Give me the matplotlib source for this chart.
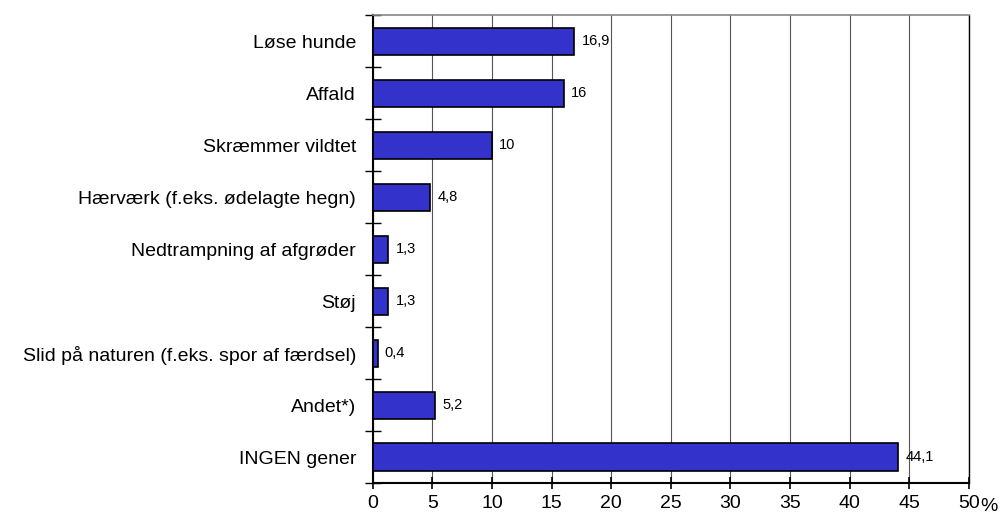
import matplotlib
matplotlib.use("Agg")
import matplotlib.pyplot as plt
import numpy as np

CATEGORIES = [
    "Løse hunde",
    "Affald",
    "Skræmmer vildtet",
    "Hærværk (f.eks. ødelagte hegn)",
    "Nedtrampning af afgrøder",
    "Støj",
    "Slid på naturen (f.eks. spor af færdsel)",
    "Andet*)",
    "INGEN gener",
]
VALUES = [16.9, 16, 10, 4.8, 1.3, 1.3, 0.4, 5.2, 44.1]
XTICKS = [0, 5, 10, 15, 20, 25, 30, 35, 40, 45, 50]

plt.rcParams["font.family"] = ["Liberation Sans", "DejaVu Sans"]

fig = plt.figure(figsize=(10.05, 5.25), dpi=100)
ax = fig.add_axes([0.371, 0.08, 0.593, 0.891])

n = len(CATEGORIES)
y = np.arange(n)
ax.barh(y, VALUES, height=0.52, color="#3333CC", edgecolor="black", lw=1.2, zorder=3)
for yi, v in zip(y, VALUES):
    lab = f"{v:g}".replace(".", ",")
    ax.text(v + 0.6, yi, lab, va="center", ha="left", fontsize=10.5, zorder=4)

ax.set_xlim(0, 50)
ax.set_ylim(n - 0.5, -0.5)
ax.set_xticks(XTICKS)
ax.set_xticklabels([str(t) for t in XTICKS], fontsize=14)
ax.tick_params(axis="x", direction="inout", length=9, width=1.2, pad=4)
ax.grid(axis="x", color="#555555", lw=0.8, zorder=0)

ax.set_yticks(y)
ax.set_yticklabels(CATEGORIES, fontsize=14)
ax.tick_params(axis="y", which="major", length=0, pad=12)
ax.set_yticks(np.arange(-0.5, n, 1.0), minor=True)
ax.tick_params(axis="y", which="minor", direction="inout", length=12, width=1.0)

for side in ("left", "bottom"):
    ax.spines[side].set_linewidth(1.5)
ax.spines["right"].set_linewidth(1.0)
ax.spines["top"].set_color("#888888")
ax.spines["top"].set_linewidth(1.2)

ax.text(1.02, -0.05, "%", transform=ax.transAxes, fontsize=14, ha="left", va="center")

fig.savefig("out.png", dpi=100)
